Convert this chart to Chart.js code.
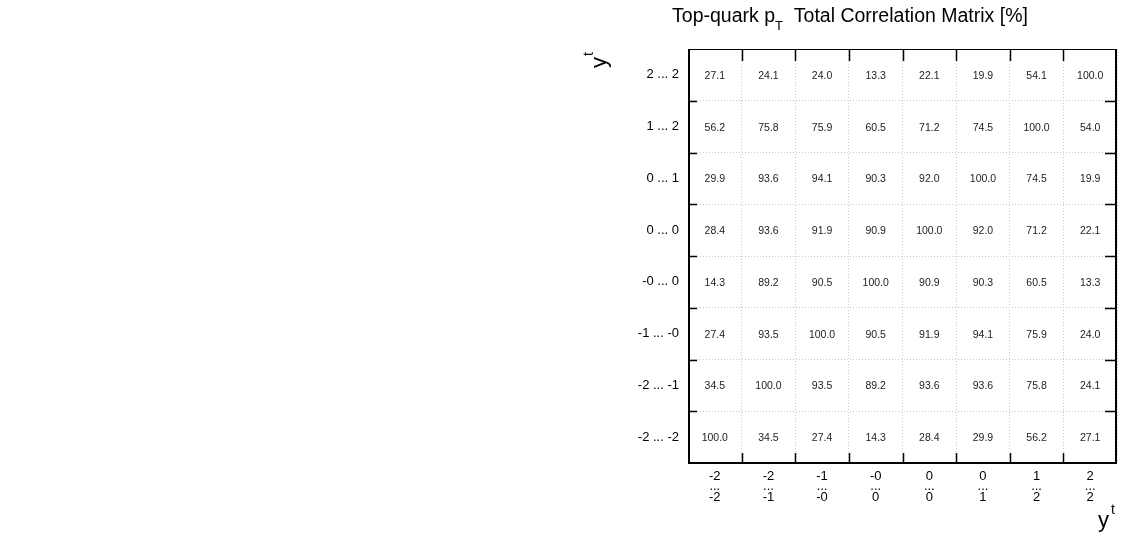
<!DOCTYPE html>
<html>
<head>
<meta charset="utf-8">
<script src="https://cdn.jsdelivr.net/npm/chart.js@4/dist/chart.umd.min.js"></script>
<style>
  html, body { margin: 0; padding: 0; background: #fff; }
  #wrap { width: 1125px; height: 542px; }
</style>
</head>
<body>
<div id="wrap"><canvas id="c" width="1125" height="542"></canvas></div>
<script>
// bin labels, bottom to top (y) and left to right (x)
var yLabels = ['-2 ... -2', '-2 ... -1', '-1 ... -0', '-0 ... 0', '0 ... 0', '0 ... 1', '1 ... 2', '2 ... 2'];
var xLabels = [
  ['-2', '...', '-2'], ['-2', '...', '-1'], ['-1', '...', '-0'], ['-0', '...', '0'],
  ['0', '...', '0'], ['0', '...', '1'], ['1', '...', '2'], ['2', '...', '2']
];

// correlation values [%], row 0 = bottom row (-2 ... -2)
var row0 = [100.0, 34.5, 27.4, 14.3, 28.4, 29.9, 56.2, 27.1];
var row1 = [34.5, 100.0, 93.5, 89.2, 93.6, 93.6, 75.8, 24.1];
var row2 = [27.4, 93.5, 100.0, 90.5, 91.9, 94.1, 75.9, 24.0];
var row3 = [14.3, 89.2, 90.5, 100.0, 90.9, 90.3, 60.5, 13.3];
var row4 = [28.4, 93.6, 91.9, 90.9, 100.0, 92.0, 71.2, 22.1];
var row5 = [29.9, 93.6, 94.1, 90.3, 92.0, 100.0, 74.5, 19.9];
var row6 = [56.2, 75.8, 75.9, 60.5, 71.2, 74.5, 100.0, 54.0];
var row7 = [27.1, 24.1, 24.0, 13.3, 22.1, 19.9, 54.1, 100.0];
var rows = [row0, row1, row2, row3, row4, row5, row6, row7];

var FONT = '"Liberation Sans", Arial, Helvetica, sans-serif';

var points = [];
rows.forEach(function (row, j) {
  row.forEach(function (v, i) {
    points.push({ x: i + 0.5, y: j + 0.5, v: v });
  });
});

function centerTicks(scale) {
  var t = [];
  for (var i = 0; i < 8; i++) t.push({ value: i + 0.5 });
  scale.ticks = t;
}

// cell texts, frame, inner tick marks, title and axis titles
var decorations = {
  id: 'decorations',
  beforeDraw: function (chart) {
    var ctx = chart.ctx;
    ctx.save();
    ctx.fillStyle = '#fff';
    ctx.fillRect(0, 0, chart.width, chart.height);
    ctx.restore();
  },
  afterDatasetsDraw: function (chart) {
    var ctx = chart.ctx;
    var meta = chart.getDatasetMeta(0);
    ctx.save();
    ctx.font = '10.5px ' + FONT;
    ctx.fillStyle = '#222';
    ctx.textAlign = 'center';
    ctx.textBaseline = 'middle';
    meta.data.forEach(function (el, k) {
      ctx.fillText(points[k].v.toFixed(1), el.x, el.y + 1);
    });
    ctx.restore();
  },
  afterDraw: function (chart) {
    var ctx = chart.ctx;
    var a = chart.chartArea;
    var xs = chart.scales.x, ys = chart.scales.y;
    ctx.save();

    // tick marks at bin edges
    ctx.strokeStyle = '#000';
    ctx.lineWidth = 1.5;
    for (var i = 1; i < 8; i++) {
      var px = Math.round(xs.getPixelForValue(i)) + 0.5;
      ctx.beginPath();
      ctx.moveTo(px, a.top); ctx.lineTo(px, a.top + 12);
      ctx.moveTo(px, a.bottom); ctx.lineTo(px, a.bottom - 10);
      ctx.stroke();
      var py = Math.round(ys.getPixelForValue(i)) + 0.5;
      ctx.beginPath();
      ctx.moveTo(a.left, py); ctx.lineTo(a.left + 9, py);
      ctx.moveTo(a.right, py); ctx.lineTo(a.right - 12, py);
      ctx.stroke();
    }

    // frame
    ctx.lineWidth = 1;
    ctx.strokeRect(a.left + 0.5, a.top + 0.5, a.right - a.left - 1, a.bottom - a.top - 1);
    ctx.lineWidth = 2;
    ctx.beginPath();
    ctx.moveTo(a.left + 1, a.top); ctx.lineTo(a.left + 1, a.bottom);
    ctx.lineTo(a.right, a.bottom);
    ctx.moveTo(a.right - 1, a.top); ctx.lineTo(a.right - 1, a.bottom);
    ctx.stroke();

    // title with subscript
    ctx.fillStyle = '#000';
    ctx.textBaseline = 'alphabetic';
    ctx.textAlign = 'left';
    var big = '19.5px ' + FONT, sub = '13px ' + FONT;
    var p1 = 'Top-quark p', p2 = 'T', p3 = '  Total Correlation Matrix [%]';
    ctx.font = big;
    var w1 = ctx.measureText(p1).width, w3 = ctx.measureText(p3).width;
    ctx.font = sub;
    var w2 = ctx.measureText(p2).width;
    var tx = 850 - (w1 + w2 + w3) / 2;
    var ty = 22;
    ctx.font = big; ctx.fillText(p1, tx, ty);
    ctx.font = sub; ctx.fillText(p2, tx + w1, ty + 8);
    ctx.font = big; ctx.fillText(p3, tx + w1 + w2, ty);

    // x axis title
    ctx.font = '22px ' + FONT;
    ctx.fillText('y', 1098, 527);
    ctx.font = '14px ' + FONT;
    ctx.fillText('t', 1111, 514);

    // y axis title (rotated)
    ctx.translate(606, 68);
    ctx.rotate(-Math.PI / 2);
    ctx.font = '22px ' + FONT;
    ctx.fillText('y', 0, 0);
    ctx.font = '14px ' + FONT;
    ctx.fillText('t', 12, -13);
    ctx.restore();
  }
};

new Chart(document.getElementById('c'), {
  type: 'scatter',
  data: {
    datasets: [{
      data: points,
      pointRadius: 0,
      pointHoverRadius: 0
    }]
  },
  plugins: [decorations],
  options: {
    responsive: false,
    animation: false,
    events: [],
    layout: { padding: { top: 49, right: 8, bottom: 0, left: 0 } },
    plugins: {
      legend: { display: false },
      tooltip: { enabled: false },
      title: { display: false }
    },
    scales: {
      x: {
        type: 'linear',
        min: 0,
        max: 8,
        afterBuildTicks: centerTicks,
        afterFit: function (scale) { scale.height = 79; },
        border: { display: false, dash: [1, 2] },
        grid: {
          offset: true,
          drawTicks: false,
          color: '#c8c8c8',
          lineWidth: 1
        },
        ticks: {
          padding: 8,
          maxRotation: 0,
          autoSkip: false,
          color: '#000',
          font: { family: FONT, size: 13, lineHeight: 0.8 },
          callback: function (value) { return xLabels[Math.floor(value)]; }
        }
      },
      y: {
        type: 'linear',
        min: 0,
        max: 8,
        afterBuildTicks: centerTicks,
        afterFit: function (scale) { scale.width = 688; },
        border: { display: false, dash: [1, 2] },
        grid: {
          offset: true,
          drawTicks: false,
          color: '#c8c8c8',
          lineWidth: 1
        },
        ticks: {
          padding: 9,
          autoSkip: false,
          color: '#000',
          font: { family: FONT, size: 13 },
          callback: function (value) { return yLabels[Math.floor(value)]; }
        }
      }
    }
  }
});
</script>
</body>
</html>
